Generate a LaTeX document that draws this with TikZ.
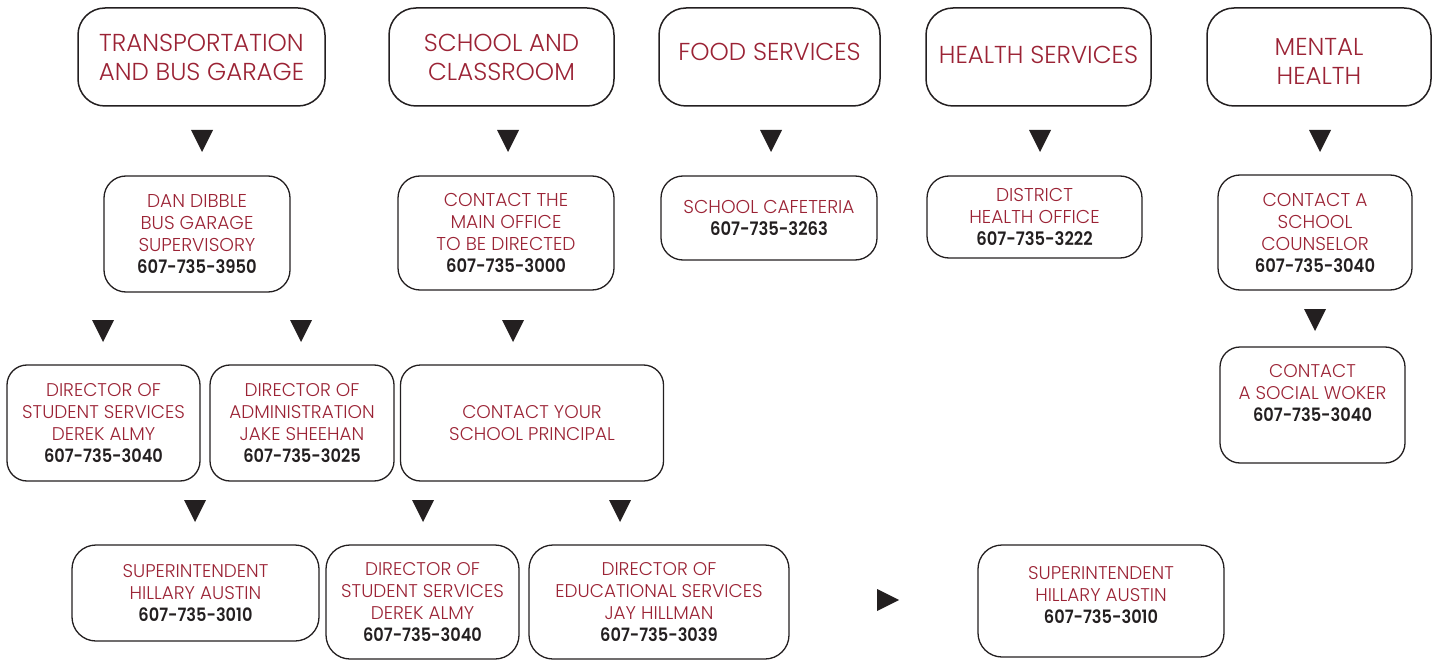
\documentclass[tikz,border=0pt]{standalone}
\usepackage{fontspec}
\setmainfont{Poppins}[UprightFont=* Light, BoldFont=* SemiBold]
\newfontfamily\phonefont{Poppins SemiBold}[FakeStretch=0.88]
\usetikzlibrary{positioning}
\definecolor{maroon}{HTML}{9B2335}
\definecolor{ink}{HTML}{231F20}
\tikzset{
  box/.style={draw=ink, line width=1.3pt, rounded corners=22pt, align=center,
    text=maroon, inner sep=0pt},
  headbox/.style={box, line width=1.5pt, rounded corners=27pt,
    font=\fontsize{24.5}{29}\selectfont},
  infobox/.style={box, font=\fontsize{18.6}{22}\selectfont},
  lowbox/.style={box, rounded corners=24pt, font=\fontsize{18.4}{22}\selectfont},
}
\newcommand\phone[1]{\textcolor{ink}{\phonefont #1}}
\newcommand\lift[2]{\raisebox{#1}[\height][\depth]{#2}}
\newcommand\downtip[1]{\fill[ink] (#1) +(-11,-11) -- +(11,-11) -- +(0,11) -- cycle;}
\newcommand\righttip[1]{\fill[ink] (#1) +(-11,-11) -- +(-11,11) -- +(11,0) -- cycle;}

\begin{document}
\begin{tikzpicture}[x=1pt, y=-1pt]
\useasboundingbox (0,0) rectangle (1439,660);

% Top row: the five topics
\node[headbox, minimum width=247, minimum height=98] (transport) at (201.5,57) {TRANSPORTATION\\AND BUS GARAGE};
\node[headbox, minimum width=225, minimum height=98] (school) at (501.5,57) {SCHOOL AND\\CLASSROOM};
\node[headbox, minimum width=221, minimum height=98] (food) at (769.5,57) {\lift{5pt}{FOOD SERVICES}};
\node[headbox, minimum width=225, minimum height=98] (health) at (1038.5,57) {\lift{2pt}{HEALTH SERVICES}};
\node[headbox, minimum width=224, minimum height=98] (mental) at (1319,57) {\lift{-4pt}{MENTAL}\\\lift{-4pt}{HEALTH}};

% Second row: first contact
\node[infobox, minimum width=186, minimum height=116] (dibble) at (197,234) {DAN DIBBLE\\BUS GARAGE\\SUPERVISORY\\\phone{607-735-3950}};
\node[infobox, minimum width=216, minimum height=114] (office) at (506,233) {CONTACT THE\\MAIN OFFICE\\TO BE DIRECTED\\\phone{607-735-3000}};
\node[infobox, minimum width=216, minimum height=84] (cafeteria) at (769,218) {SCHOOL CAFETERIA\\\phone{607-735-3263}};
\node[infobox, minimum width=215, minimum height=82] (nurse) at (1034.5,217) {DISTRICT\\HEALTH OFFICE\\\phone{607-735-3222}};
\node[infobox, minimum width=194, minimum height=115] (counselor) at (1315,232.5) {CONTACT A\\SCHOOL\\COUNSELOR\\\phone{607-735-3040}};

% Third row
\node[lowbox, rounded corners=20pt, minimum width=193, minimum height=116] (almy) at (103.5,423) {DIRECTOR OF\\STUDENT SERVICES\\DEREK ALMY\\\phone{607-735-3040}};
\node[lowbox, rounded corners=20pt, minimum width=184, minimum height=116] (sheehan) at (302,423) {DIRECTOR OF\\ADMINISTRATION\\JAKE SHEEHAN\\\phone{607-735-3025}};
\node[lowbox, rounded corners=20pt, minimum width=263, minimum height=116] (principal) at (532,423) {CONTACT YOUR\\SCHOOL PRINCIPAL};
\node[lowbox, rounded corners=20pt, minimum width=185, minimum height=116] (social) at (1312.5,405) {CONTACT\\A SOCIAL WOKER\\\phone{607-735-3040}\\[2pt]\mbox{}};

% Bottom row
\node[lowbox, minimum width=247, minimum height=96] (super) at (195.5,593) {SUPERINTENDENT\\HILLARY AUSTIN\\\phone{607-735-3010}};
\node[lowbox, minimum width=193, minimum height=114] (almy2) at (422.5,602) {DIRECTOR OF\\STUDENT SERVICES\\DEREK ALMY\\\phone{607-735-3040}};
\node[lowbox, minimum width=260, minimum height=114] (hillman) at (659,602) {DIRECTOR OF\\EDUCATIONAL SERVICES\\JAY HILLMAN\\\phone{607-735-3039}};
\node[lowbox, minimum width=246, minimum height=112] (super2) at (1101,601) {SUPERINTENDENT\\HILLARY AUSTIN\\\phone{607-735-3010}\\[-10pt]\mbox{}};

% Pointers
\coordinate (t1) at (202,141);
\coordinate (t2) at (508,141);
\coordinate (t3) at (771,141);
\coordinate (t4) at (1040,141);
\coordinate (t5) at (1320,141);
\coordinate (t6) at (103,331);
\coordinate (t7) at (301,331);
\coordinate (t8) at (513,331);
\coordinate (t9) at (1315,320);
\coordinate (t10) at (195,511);
\coordinate (t11) at (423,511);
\coordinate (t12) at (620,511);
\coordinate (t13) at (888,600);
\foreach \t in {t1,t2,t3,t4,t5,t6,t7,t8,t9,t10,t11,t12} {\downtip{\t}}
\righttip{t13}

\end{tikzpicture}
\end{document}
